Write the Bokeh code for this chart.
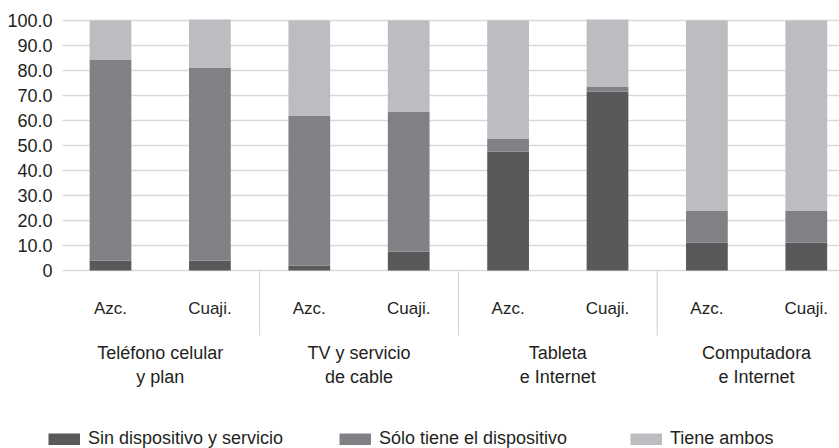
import numpy as np
from bokeh.plotting import figure
from bokeh.models import ColumnDataSource, Range1d, FixedTicker, Legend, LegendItem, Grid
from bokeh.core.properties import value
from bokeh.embed import file_html
from bokeh.resources import INLINE

# ---- data ----
groups = ["Teléfono celular\ny plan", "TV y servicio\nde cable", "Tableta\ne Internet", "Computadora\ne Internet"]
places = ["Azc.", "Cuaji."]
series = ["Sin dispositivo y servicio", "Sólo tiene el dispositivo", "Tiene ambos"]
sin_disp = [4.0, 4.0, 2.0, 7.6, 47.6, 71.6, 11.2, 11.2]
solo_disp = [80.4, 77.2, 60.0, 56.0, 5.2, 2.0, 12.8, 12.8]
ambos = [15.6, 19.2, 38.0, 36.4, 47.2, 26.8, 76.0, 76.0]
y_ticks = [0, 10, 20, 30, 40, 50, 60, 70, 80, 90, 100]
y_tick_labels = ["0", "10.0", "20.0", "30.0", "40.0", "50.0", "60.0", "70.0", "80.0", "90.0", "100.0"]
colors = ["#58595b", "#808184", "#bcbdc0"]

FONT = "Liberation Sans"
TXT = "#231f20"
GRID = "#d9d9d9"

n = len(sin_disp)
xs = np.arange(n)
src = ColumnDataSource(dict(x=xs, s0=sin_disp, s1=solo_disp, s2=ambos))

LEFT = 46          # frame left edge (px)
GRID_LEFT = 62     # where the horizontal grid lines start (px)
TOP = 10
W, H = 839, 448
px_per_unit = 99.4
first_center = 110
x_start = (LEFT - first_center) / px_per_unit
x_end = x_start + (W - LEFT) / px_per_unit
x_grid_start = (GRID_LEFT - first_center) / px_per_unit

p = figure(width=W, height=H, output_backend="svg", toolbar_location=None,
           x_range=Range1d(x_start, x_end), y_range=Range1d(-71.2, 104),
           x_axis_location=None, min_border_left=LEFT, min_border_right=0,
           min_border_top=TOP, min_border_bottom=0)
p.outline_line_color = None
p.background_fill_color = "white"
p.border_fill_color = "white"
p.xgrid.visible = False
p.ygrid.ticker = FixedTicker(ticks=y_ticks)
p.ygrid.grid_line_color = GRID
p.ygrid.grid_line_width = 1.3
if "cross_bounds" in Grid.properties():
    p.ygrid.cross_bounds = (x_grid_start, x_end + 1)

p.yaxis.ticker = FixedTicker(ticks=y_ticks)
p.yaxis.major_label_overrides = {t: l for t, l in zip(y_ticks, y_tick_labels)}
p.yaxis.axis_line_color = None
p.yaxis.major_tick_line_color = None
p.yaxis.minor_tick_line_color = None
p.yaxis.major_tick_out = 0
p.yaxis.major_tick_in = 0
p.yaxis.major_label_standoff = LEFT - 52
p.yaxis.major_label_text_font = FONT
p.yaxis.major_label_text_font_size = "18px"
p.yaxis.major_label_text_color = TXT

p.vbar_stack(["s0", "s1", "s2"], x="x", width=0.42, source=src,
             color=colors, line_color=None)

# separators between groups
seps = np.arange(1, len(groups)) * 2 - 0.5
p.segment(x0=seps, y0=[0] * len(seps), x1=seps, y1=[-26] * len(seps),
          line_color=GRID, line_width=1.3)

# sub labels
sub = ColumnDataSource(dict(x=xs, y=[-15.2] * n, t=places * len(groups)))
p.text(x="x", y="y", text="t", source=sub, text_align="center", text_baseline="middle",
       text_font=value(FONT), text_font_size="17px", text_color=TXT)

# group labels
gx = np.arange(len(groups)) * 2 + 0.5
gsrc = ColumnDataSource(dict(x=gx, y=[-37.6] * len(groups), t=groups))
p.text(x="x", y="y", text="t", source=gsrc, text_align="center", text_baseline="middle",
       text_font=value(FONT), text_font_size="18px", text_color=TXT, text_line_height=1.2)

# legend swatches (line renderers with no visible points, drawn as 32x12 blocks)
items = []
for name, c in zip(series, colors):
    r = p.line(x=[np.nan], y=[np.nan], line_color=c, line_width=12, line_cap="butt")
    items.append(LegendItem(label=name, renderers=[r]))

lg = Legend(items=items, orientation="horizontal", location=(48 - LEFT, -1),
            border_line_color=None, background_fill_alpha=0, padding=0, margin=0,
            spacing=0, glyph_width=32, glyph_height=12, label_standoff=8,
            label_width=251, label_height=12, label_text_font=FONT,
            label_text_font_size="18px", label_text_color=TXT)
p.add_layout(lg, "center")

open("out.html", "w").write(file_html(p, INLINE))
